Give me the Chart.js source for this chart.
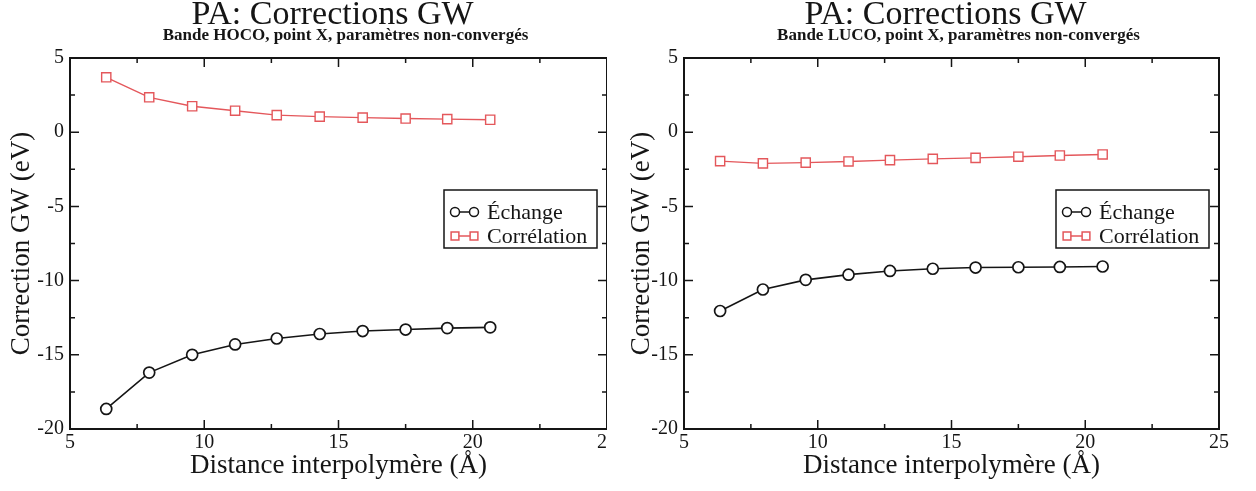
<!DOCTYPE html>
<html lang="fr">
<head>
<meta charset="utf-8">
<title>PA: Corrections GW</title>
<script src="https://cdn.jsdelivr.net/npm/chart.js@4.4.1/dist/chart.umd.min.js"></script>
<style>
  html, body { margin: 0; padding: 0; background: #fff; }
  body { width: 1256px; height: 491px; position: relative; overflow: hidden; }
  .panneau { position: absolute; top: 0; height: 491px; overflow: hidden; }
  #gauche { left: 0; width: 607px; }
  #droite { left: 620px; width: 636px; }
  canvas { display: block; }
</style>
</head>
<body>
<div class="panneau" id="gauche"><canvas id="hocoChart" width="640" height="491"></canvas></div>
<div class="panneau" id="droite"><canvas id="lucoChart" width="636" height="491"></canvas></div>
<script>
/* =========================================================
 * Données
 * ========================================================= */
const distances = [6.35, 7.95, 9.55, 11.15, 12.7, 14.3, 15.9, 17.5, 19.05, 20.65];

// bande HOCO
const hocoEchange = [-18.65, -16.2, -15.0, -14.3, -13.9, -13.6, -13.4, -13.3, -13.2, -13.15];
const hocoCorrelation = [3.7, 2.35, 1.75, 1.45, 1.15, 1.05, 0.98, 0.92, 0.88, 0.84];

// bande LUCO
const lucoEchange = [-12.05, -10.6, -9.95, -9.6, -9.35, -9.2, -9.12, -9.1, -9.08, -9.05];
const lucoCorrelation = [-1.95, -2.1, -2.05, -1.97, -1.88, -1.8, -1.73, -1.65, -1.57, -1.5];

const ticksX = [5, 10, 15, 20, 25];
const ticksY = [-20, -15, -10, -5, 0, 5];
const nomsSeries = ["Échange", "Corrélation"];
const titre = "PA: Corrections GW";
const sousTitreHoco = "Bande HOCO, point X, paramètres non-convergés";
const sousTitreLuco = "Bande LUCO, point X, paramètres non-convergés";
const titreX = "Distance interpolymère (Å)";
const titreY = "Correction GW (eV)";

const serif = "'Liberation Serif', 'Times New Roman', serif";
const encre = "#151515";
const rouge = "#e4575b";

/* =========================================================
 * Plugin : titre + sous-titre centrés sur la zone de tracé
 * ========================================================= */
const titres = {
  id: "titres",
  afterDraw(chart, args, opts) {
    const ctx = chart.ctx;
    const cx = (chart.chartArea.left + chart.chartArea.right) / 2;
    ctx.save();
    ctx.fillStyle = encre;
    ctx.textAlign = "center";
    ctx.textBaseline = "alphabetic";
    ctx.font = `34px ${serif}`;
    ctx.fillText(titre, cx - 6, 24);
    ctx.font = `bold 17px ${serif}`;
    ctx.fillText(opts.sousTitre, cx + 7, 40);
    ctx.restore();
  },
};

/* =========================================================
 * Plugin : cadre + graduations vers l'intérieur (4 côtés)
 * ========================================================= */
const cadre = {
  id: "cadre",
  afterDraw(chart) {
    const { ctx, chartArea: a, scales } = chart;
    const demi = (vals) => {
      const out = [];
      for (let i = 0; i < vals.length - 1; i++) out.push((vals[i] + vals[i + 1]) / 2);
      return out;
    };
    ctx.save();
    ctx.strokeStyle = encre;
    ctx.lineWidth = 1.5;
    ctx.beginPath();
    const marque = (vals, long) => {
      vals.forEach((v) => {
        const px = scales.x.getPixelForValue(v);
        ctx.moveTo(px, a.bottom); ctx.lineTo(px, a.bottom - long);
        ctx.moveTo(px, a.top); ctx.lineTo(px, a.top + long);
      });
    };
    const marqueY = (vals, long) => {
      vals.forEach((v) => {
        const py = scales.y.getPixelForValue(v);
        ctx.moveTo(a.left, py); ctx.lineTo(a.left + long, py);
        ctx.moveTo(a.right, py); ctx.lineTo(a.right - long, py);
      });
    };
    marque(ticksX, 9);
    marque(demi(ticksX), 5);
    marqueY(ticksY, 9);
    marqueY(demi(ticksY), 5);
    ctx.stroke();
    ctx.lineWidth = 2;
    ctx.strokeRect(a.left, a.top, a.right - a.left, a.bottom - a.top);
    ctx.restore();
  },
};

/* =========================================================
 * Plugin : légende encadrée dans la zone de tracé
 * ========================================================= */
const legende = {
  id: "legende",
  afterDraw(chart) {
    const { ctx, chartArea: a } = chart;
    const x0 = a.right - 163;
    const y0 = a.top + 132;
    const w = 153;
    const h = 58;
    ctx.save();
    ctx.fillStyle = "#fff";
    ctx.fillRect(x0, y0, w, h);
    ctx.strokeStyle = encre;
    ctx.lineWidth = 1.5;
    ctx.strokeRect(x0, y0, w, h);
    chart.data.datasets.forEach((ds, i) => {
      const y = y0 + 22 + i * 24;
      ctx.strokeStyle = ds.borderColor;
      ctx.lineWidth = 1.5;
      ctx.beginPath();
      ctx.moveTo(x0 + 11, y);
      ctx.lineTo(x0 + 30, y);
      ctx.stroke();
      ctx.fillStyle = "#fff";
      [x0 + 11, x0 + 30].forEach((px) => {
        Chart.helpers.drawPoint(ctx, {
          pointStyle: ds.pointStyle,
          radius: ds.pointStyle === "rect" ? 5.5 : 4.5,
          rotation: 0,
          borderWidth: 1.5,
        }, px, y);
      });
      ctx.fillStyle = encre;
      ctx.font = `22px ${serif}`;
      ctx.textAlign = "left";
      ctx.textBaseline = "middle";
      ctx.fillText(ds.label, x0 + 43, y + 1);
    });
    ctx.restore();
  },
};

/* =========================================================
 * Construction d'un graphique
 * ========================================================= */
function creerGraphique(id, sousTitre, echange, correlation, margeDroite, largeurY) {
  return new Chart(document.getElementById(id), {
    type: "line",
    data: {
      datasets: [
        {
          label: nomsSeries[0],
          data: distances.map((x, i) => ({ x, y: echange[i] })),
          borderColor: encre,
          borderWidth: 1.6,
          pointStyle: "circle",
          pointRadius: 5.5,
          pointBorderWidth: 1.7,
          pointBorderColor: encre,
          pointBackgroundColor: "#fff",
        },
        {
          label: nomsSeries[1],
          data: distances.map((x, i) => ({ x, y: correlation[i] })),
          borderColor: rouge,
          borderWidth: 1.4,
          pointStyle: "rect",
          pointRadius: 6.5,
          pointBorderWidth: 1.4,
          pointBorderColor: rouge,
          pointBackgroundColor: "#fff",
        },
      ],
    },
    options: {
      responsive: false,
      animation: false,
      events: [],
      layout: { padding: { top: 58, right: margeDroite, left: 0, bottom: 0 } },
      plugins: {
        legend: { display: false },
        tooltip: { enabled: false },
        title: { display: false },
        titres: { sousTitre },
      },
      scales: {
        x: {
          type: "linear",
          min: 5,
          max: 25,
          grid: { display: false, drawTicks: false },
          border: { display: false },
          afterBuildTicks: (s) => { s.ticks = ticksX.map((v) => ({ value: v })); },
          afterFit: (s) => { s.height = 62; s.paddingLeft = 0; s.paddingRight = 0; },
          ticks: { color: encre, font: { family: serif, size: 20 }, padding: 2, maxRotation: 0 },
          title: {
            display: true,
            text: titreX,
            color: encre,
            font: { family: serif, size: 27 },
            padding: { top: 0, bottom: 9 },
          },
        },
        y: {
          min: -20,
          max: 5,
          grid: { display: false, drawTicks: false },
          border: { display: false },
          afterBuildTicks: (s) => { s.ticks = ticksY.map((v) => ({ value: v })); },
          afterFit: (s) => { s.width = largeurY; s.paddingTop = 0; s.paddingBottom = 0; },
          ticks: { color: encre, font: { family: serif, size: 20 }, padding: 6 },
          title: {
            display: true,
            text: titreY,
            color: encre,
            font: { family: serif, size: 27 },
            padding: { top: 6, bottom: 0 },
          },
        },
      },
    },
    plugins: [titres, cadre, legende],
  });
}

creerGraphique("hocoChart", sousTitreHoco, hocoEchange, hocoCorrelation, 33, 70);
creerGraphique("lucoChart", sousTitreLuco, lucoEchange, lucoCorrelation, 37, 64);
</script>
</body>
</html>
